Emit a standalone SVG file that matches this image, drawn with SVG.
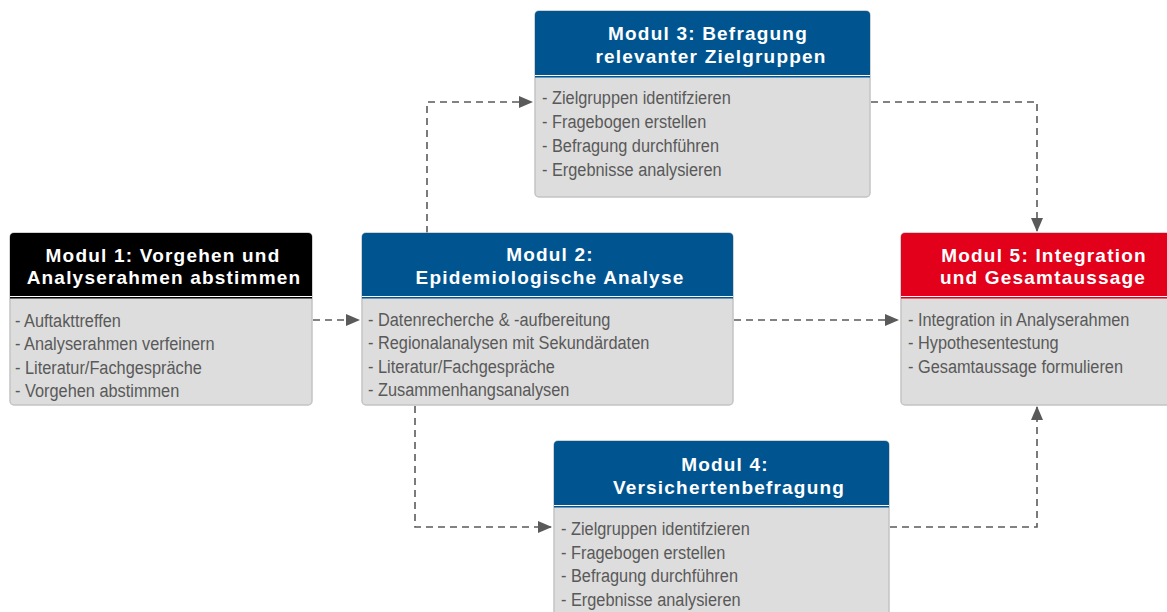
<svg xmlns="http://www.w3.org/2000/svg" width="1167" height="612" viewBox="0 0 1167 612">
<style>
.card{fill:#dddddd;stroke:#c4c4c4;stroke-width:1.5}
.h{font-family:"Liberation Sans",Arial,sans-serif;font-weight:bold;font-size:19px;letter-spacing:1.2px;fill:#ffffff;text-anchor:middle}
.b{font-family:"Liberation Sans",Arial,sans-serif;font-size:19px;fill:#595959}
.sep{fill:#ffffff}
.conn{fill:none;stroke:#5a5a5a;stroke-width:1.6;stroke-dasharray:7 5}
.blue{fill:#005591}
.red{fill:#e2001a}
.black{fill:#000000}
</style>
<defs>
<marker id="arr" markerUnits="userSpaceOnUse" markerWidth="14" markerHeight="12" refX="13" refY="6" orient="auto">
<path d="M0,0 L14,6 L0,12 z" fill="#5a5a5a"/>
</marker>
</defs>

<g id="connectors">
<path class="conn" d="M313,320 H359" marker-end="url(#arr)"/>
<path class="conn" d="M427,233 V102 H532" marker-end="url(#arr)"/>
<path class="conn" d="M734,320 H898" marker-end="url(#arr)"/>
<path class="conn" d="M415,406 V527 H551" marker-end="url(#arr)"/>
<path class="conn" d="M871,102 H1037 V231" marker-end="url(#arr)"/>
<path class="conn" d="M890,527 H1037 V407" marker-end="url(#arr)"/>
</g>

<g id="modul1">
<rect class="card" x="10" y="233" width="302" height="172" rx="4"/>
<path class="black" d="M10,296 V237 Q10,233 14,233 H308 Q312,233 312,237 V296 Z"/>
<rect class="sep" x="10" y="296" width="302" height="1"/>
<rect class="black" x="10" y="297" width="302" height="1.5"/>
<text class="h" x="163" y="262">Modul 1: Vorgehen und</text>
<text class="h" x="164" y="284">Analyserahmen abstimmen</text>
<text class="b" transform="translate(15,327) scale(0.86,1)"><tspan x="0" y="0">- Auftakttreffen</tspan><tspan x="0" dy="23.5">- Analyserahmen verfeinern</tspan><tspan x="0" dy="23.5">- Literatur/Fachgespräche</tspan><tspan x="0" dy="23.5">- Vorgehen abstimmen</tspan></text>
</g>

<g id="modul2">
<rect class="card" x="362" y="233" width="371" height="172" rx="4"/>
<path class="blue" d="M362,296 V237 Q362,233 366,233 H729 Q733,233 733,237 V296 Z"/>
<rect class="sep" x="362" y="296" width="371" height="1"/>
<rect class="blue" x="362" y="297" width="371" height="1.5"/>
<text class="h" x="550" y="261">Modul 2:</text>
<text class="h" x="550" y="284">Epidemiologische Analyse</text>
<text class="b" transform="translate(368,326) scale(0.86,1)"><tspan x="0" y="0">- Datenrecherche &amp; -aufbereitung</tspan><tspan x="0" dy="23.5">- Regionalanalysen mit Sekundärdaten</tspan><tspan x="0" dy="23.5">- Literatur/Fachgespräche</tspan><tspan x="0" dy="23.5">- Zusammenhangsanalysen</tspan></text>
</g>

<g id="modul3">
<rect class="card" x="535" y="11" width="335" height="186" rx="4"/>
<path class="blue" d="M535,75 V15 Q535,11 539,11 H866 Q870,11 870,15 V75 Z"/>
<rect class="sep" x="535" y="75" width="335" height="1"/>
<rect class="blue" x="535" y="76" width="335" height="1.5"/>
<text class="h" x="708" y="40">Modul 3: Befragung</text>
<text class="h" x="711" y="63">relevanter Zielgruppen</text>
<text class="b" transform="translate(542,104) scale(0.86,1)"><tspan x="0" y="0">- Zielgruppen identifzieren</tspan><tspan x="0" dy="23.9">- Fragebogen erstellen</tspan><tspan x="0" dy="23.9">- Befragung durchführen</tspan><tspan x="0" dy="23.9">- Ergebnisse analysieren</tspan></text>
</g>

<g id="modul4">
<rect class="card" x="554" y="441" width="335" height="180" rx="4"/>
<path class="blue" d="M554,505 V445 Q554,441 558,441 H885 Q889,441 889,445 V505 Z"/>
<rect class="sep" x="554" y="505" width="335" height="1"/>
<rect class="blue" x="554" y="506" width="335" height="1.5"/>
<text class="h" x="725" y="471">Modul 4:</text>
<text class="h" x="729" y="494">Versichertenbefragung</text>
<text class="b" transform="translate(561,535) scale(0.86,1)"><tspan x="0" y="0">- Zielgruppen identifzieren</tspan><tspan x="0" dy="23.6">- Fragebogen erstellen</tspan><tspan x="0" dy="23.6">- Befragung durchführen</tspan><tspan x="0" dy="23.6">- Ergebnisse analysieren</tspan></text>
</g>

<g id="modul5">
<rect class="card" x="901" y="233" width="290" height="172" rx="4"/>
<path class="red" d="M901,296 V237 Q901,233 905,233 H1187 Q1191,233 1191,237 V296 Z"/>
<rect class="sep" x="901" y="296" width="290" height="1"/>
<rect class="red" x="901" y="297" width="290" height="1.5"/>
<text class="h" x="1044" y="262">Modul 5: Integration</text>
<text class="h" x="1043" y="284">und Gesamtaussage</text>
<text class="b" transform="translate(908,326) scale(0.86,1)"><tspan x="0" y="0">- Integration in Analyserahmen</tspan><tspan x="0" dy="23.5">- Hypothesentestung</tspan><tspan x="0" dy="23.5">- Gesamtaussage formulieren</tspan></text>
</g>
</svg>
